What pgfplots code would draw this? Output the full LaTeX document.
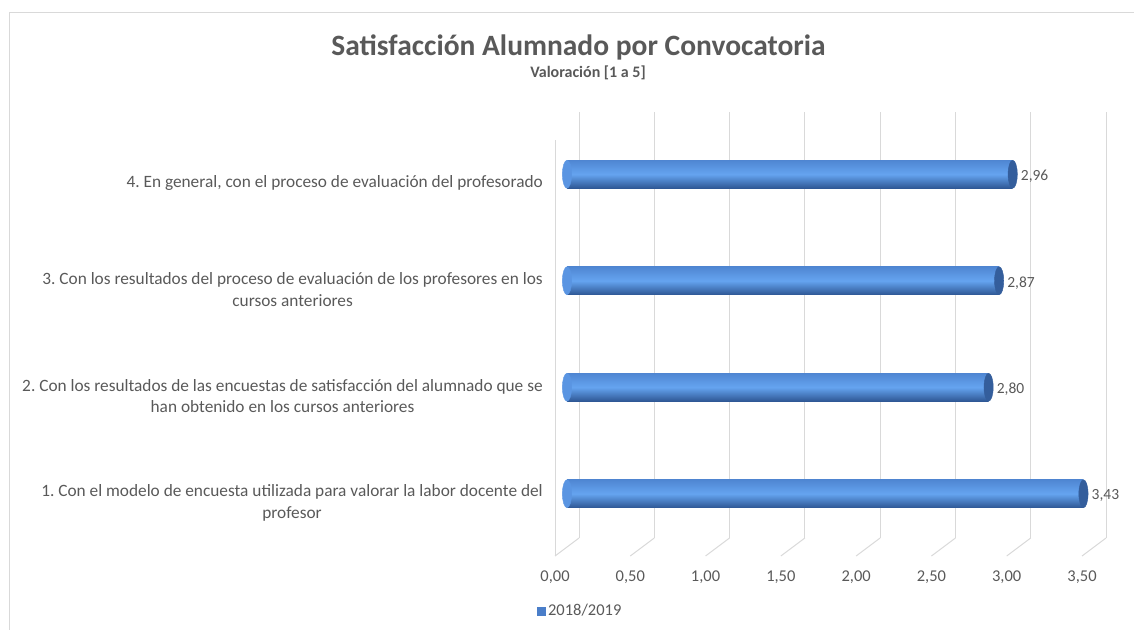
\documentclass[border=0pt]{standalone}
\usepackage{pgfplots}
\pgfplotsset{compat=1.18}
\usepackage{fontspec}
\setmainfont{Carlito}
\frenchspacing
\definecolor{txt}{HTML}{595959}
\definecolor{gridc}{HTML}{D9D9D9}
\definecolor{bartop}{HTML}{4F86D2}
\definecolor{barmid}{HTML}{65A4F0}
\definecolor{barbot}{HTML}{2E5794}
\definecolor{capc}{HTML}{345E9C}
\definecolor{capl}{HTML}{5A95E2}
\definecolor{legc}{HTML}{4A7EC9}
\begin{document}
\begin{tikzpicture}[x=1pt,y=1pt]
\useasboundingbox (0,0) rectangle (1134,629);
\draw[gridc, line width=1pt] (9.5,-5) -- (9.5,616.5) -- (1140,616.5);
\node[anchor=base, text=txt, font=\fontsize{29.5}{34}\selectfont\bfseries, inner sep=0pt] at (578.5,573) {Satisfacción Alumnado por Convocatoria};
\node[anchor=base, text=txt, font=\fontsize{16}{19}\selectfont\bfseries, inner sep=0pt] at (588,551) {Valoración [1 a 5]};
\begin{axis}[
  at={(567pt,82pt)}, anchor=south west, scale only axis,
  width=527pt, height=426pt,
  xmin=0, xmax=3.5, ymin=0.5, ymax=4.5,
  clip=false,
  axis line style={draw=none},
  major tick length=0pt,
  tick style={draw=none},
  xtick={0,0.5,1,1.5,2,2.5,3,3.5},
  ytick={1,2,3,4},
  yticklabels={{1. Con el modelo de encuesta utilizada para valorar la labor docente del\\profesor},
    {2. Con los resultados de las encuestas de satisfacción del alumnado que se\\han obtenido en los cursos anteriores},
    {3. Con los resultados del proceso de evaluación de los profesores en los\\cursos anteriores},
    {4. En general, con el proceso de evaluación del profesorado}},
  /pgf/number format/fixed,
  /pgf/number format/fixed zerofill,
  /pgf/number format/precision=2,
  /pgf/number format/use comma,
  /pgf/number format/assume math mode=true,
  tick label style={text=txt, inner sep=0pt},
  xticklabel style={font=\fontsize{16.5}{20}\selectfont, xshift=-12pt, yshift=-24pt},
  yticklabel style={font=\fontsize{17.3}{21.5}\selectfont, align=center, xshift=-24pt, yshift=-9pt},
  legend style={at={(0,0)}, anchor=west, xshift=-30pt, yshift=-64pt, draw=none, fill=none,
    font=\fontsize{16.5}{19}\selectfont, text=txt, inner sep=0pt, nodes={inner sep=2.5pt}},
  legend cell align=left,
]
\pgfplotsinvokeforeach{0,0.5,1,1.5,2,2.5,3,3.5}{
  \draw[gridc, line width=1pt] ([xshift=12pt,yshift=9pt]axis cs:#1,0.5) -- ([xshift=12pt,yshift=9pt]axis cs:#1,4.5);
  \draw[gridc, line width=1pt] ([xshift=12pt,yshift=9pt]axis cs:#1,0.5) -- ([xshift=-12pt,yshift=-9pt]axis cs:#1,0.5);
}
\draw[gridc, line width=1pt] ([xshift=-12pt,yshift=-9pt]axis cs:0,0.5) -- ([xshift=-12pt,yshift=-19pt]axis cs:0,4.5);
\addplot[forget plot, only marks, mark=*, mark size=14pt, mark options={xscale=0.33, draw=capl, fill=capl}]
  coordinates {(0,1) (0,2) (0,3) (0,4)};
\addplot[forget plot, xbar, bar width=28pt, draw=none, top color=bartop, bottom color=barbot, middle color=barmid]
  coordinates {(3.43,1)};
\addplot[forget plot, xbar, bar width=28pt, draw=none, top color=bartop, bottom color=barbot, middle color=barmid]
  coordinates {(2.80,2)};
\addplot[forget plot, xbar, bar width=28pt, draw=none, top color=bartop, bottom color=barbot, middle color=barmid]
  coordinates {(2.87,3)};
\addplot[forget plot, xbar, bar width=28pt, draw=none, top color=bartop, bottom color=barbot, middle color=barmid]
  coordinates {(2.96,4)};
\addplot[forget plot, only marks, mark=*, mark size=14pt, mark options={xscale=0.33, draw=capc, fill=capc},
  point meta=x, nodes near coords,
  nodes near coords style={anchor=west, xshift=8pt, yshift=-2pt, font=\fontsize{15.5}{18}\selectfont, text=txt, inner sep=0pt}]
  coordinates {(3.43,1) (2.80,2) (2.87,3) (2.96,4)};
\addlegendimage{legend image code/.code={\fill[legc] (0pt,-4pt) rectangle (8pt,4pt);}}
\addlegendentry{2018/2019}
\end{axis}
\end{tikzpicture}
\end{document}
